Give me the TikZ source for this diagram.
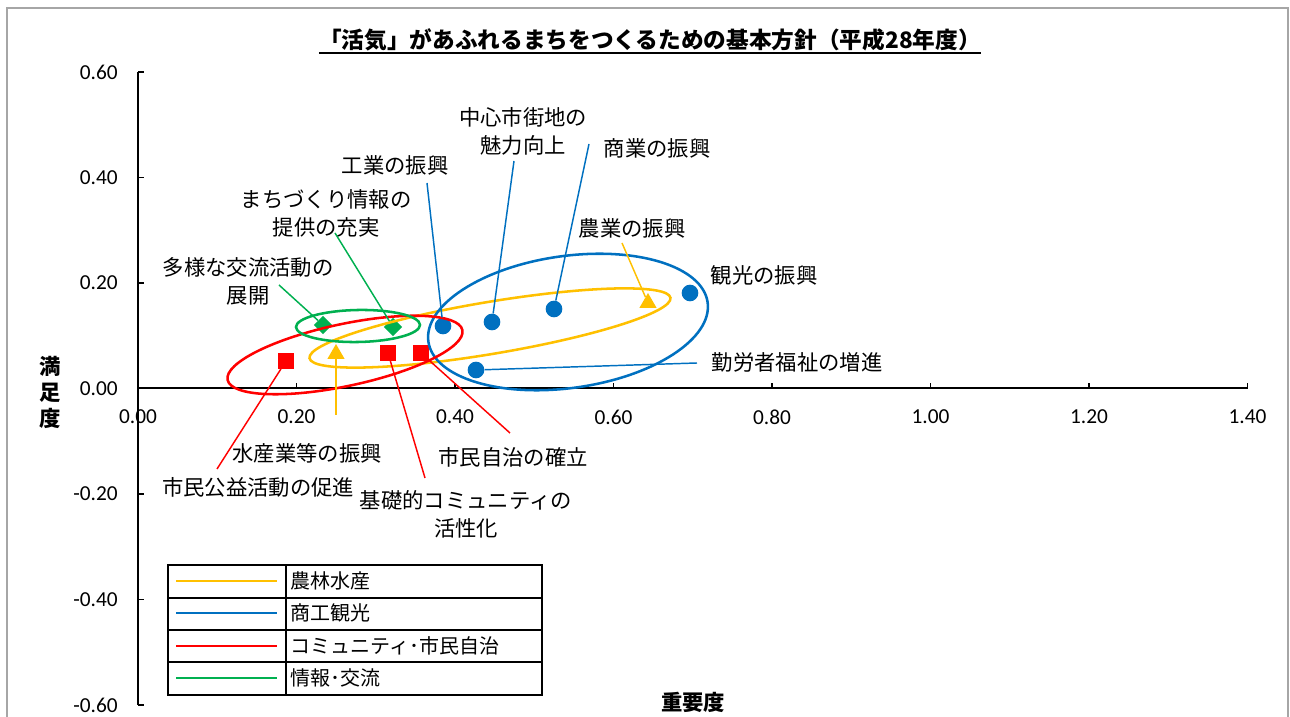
\documentclass[tikz,border=0pt]{standalone}
\usepackage{fontspec}
\setmainfont{Noto Sans CJK JP}
\newfontfamily\numfont{Carlito}
\usetikzlibrary{shapes.geometric}
\definecolor{norin}{RGB}{255,192,0}
\definecolor{shoko}{RGB}{0,112,192}
\definecolor{komyu}{RGB}{255,0,0}
\definecolor{joho}{RGB}{0,176,80}
\definecolor{waku}{RGB}{166,166,166}
\tikzset{
  lbl/.style={font=\fontsize{16}{21}\selectfont, align=center, inner sep=0pt},
  ticklbl/.style={font=\numfont\fontsize{16}{19}\selectfont, inner sep=0pt},
  axttl/.style={font=\bfseries\fontsize{16}{19.5}\selectfont, align=center, inner sep=0pt},
  axis/.style={line width=1.1pt},
  lead/.style={line width=1.1pt},
  ring/.style={line width=1.9pt},
  bdot/.style={circle, fill=shoko, inner sep=0pt, minimum size=12.5pt},
  otri/.style={regular polygon, regular polygon sides=3, fill=norin, inner sep=0pt, minimum size=15pt},
  rsq/.style={rectangle, fill=komyu, inner sep=0pt, minimum size=11.5pt},
  gdia/.style={diamond, fill=joho, inner sep=0pt, minimum size=14pt},
}
\begin{document}
\begin{tikzpicture}[x=0.75pt,y=0.75pt]
\useasboundingbox (0,0) rectangle (1290,717);
\draw[waku, line width=1.1pt] (7,-5) -- (7,709) -- (1288,709) -- (1288,-5);

\node[font=\bfseries\fontsize{17}{20}\selectfont, inner sep=0pt] (title) at (650,677) {「活気」があふれるまちをつくるための基本方針（平成28年度）};
\draw[line width=1pt] (title.west |- 0,664) -- (title.east |- 0,664);

% axes
\draw[axis] (138,12) -- (138,645);
\draw[axis] (138,329) -- (1247.5,329);
\foreach \v [count=\k from 0] in {-0.60,-0.40,-0.20,0.00,0.20,0.40,0.60} {
  \draw[axis] (138,12+105.5*\k) -- ++(6,0);
  \node[ticklbl, anchor=east] (ylab\k) at (118,12+105.5*\k) {\v};
}
\foreach \v [count=\k from 0] in {0.00,0.20,0.40,0.60,0.80,1.00,1.20,1.40} {
  \draw[axis] (138+158.5*\k,329) -- ++(0,5);
  \node[ticklbl] (xlab\k) at (138+158.5*\k,300) {\v};
}
\node[axttl] (ytitle) at (50,325) {満\\足\\度};
\node[axttl] (xtitle) at (693,15) {重要度};

% markers
\node[bdot] (kogyo) at (443,391) {};
\node[bdot] (chushin) at (492,395) {};
\node[bdot] (shogyo) at (554,408) {};
\node[bdot] (kanko) at (690,424) {};
\node[bdot] (kinro) at (476,347) {};
\node[otri] (suisan) at (336,363) {};
\node[otri] (nogyo) at (648,414) {};
\node[rsq] (koeki) at (286,356) {};
\node[rsq] (kiso) at (388,364) {};
\node[rsq] (jichi) at (421,364) {};
\node[gdia] (tayo) at (323,392) {};
\node[gdia] (machi) at (393,390) {};

% groups
\draw[ring, norin, rotate around={9.5:(490,389)}] (490,389) ellipse [x radius=183, y radius=26];
\draw[ring, shoko, rotate around={8:(568,395)}] (568,395) ellipse [x radius=141, y radius=66];
\draw[ring, komyu, rotate around={12:(345,362)}] (345,362) ellipse [x radius=120, y radius=31];
\draw[ring, joho, rotate around={1:(358,391)}] (358,391) ellipse [x radius=62, y radius=16];

% labels
\node[lbl] (kogyolbl) at (395,552) {工業の振興};
\node[lbl] (chushinlbl) at (523,586) {中心市街地の\\魅力向上};
\node[lbl] (shogyolbl) at (657,569) {商業の振興};
\node[lbl] (machilbl) at (326,504) {まちづくり情報の\\提供の充実};
\node[lbl] (nogyolbl) at (632,489) {農業の振興};
\node[lbl] (tayolbl) at (248,436) {多様な交流活動の\\展開};
\node[lbl] (kankolbl) at (764,442) {観光の振興};
\node[lbl] (kinrolbl) at (797,355) {勤労者福祉の増進};
\node[lbl] (suisanlbl) at (307,264) {水産業等の振興};
\node[lbl] (jichilbl) at (513,260) {市民自治の確立};
\node[lbl] (koekilbl) at (258,230) {市民公益活動の促進};
\node[lbl] (kisolbl) at (466,203) {基礎的コミュニティの\\活性化};

\coordinate (kogyoend) at (427,534);
\coordinate (chushinend) at (514,556);
\coordinate (shogyoend) at (589,573);
\coordinate (nogyoend) at (622,474);
\coordinate (kinroend) at (697,354);
\coordinate (machiend) at (335,484);
\coordinate (tayoend) at (279,432);
\coordinate (suisanend) at (336,302);
\coordinate (koekiend) at (217,248);
\coordinate (kisoend) at (425,239);
\coordinate (jichiend) at (510,284);

\path[draw,lead,shoko] (kogyoend) -- (kogyo);
\path[draw,lead,shoko] (chushinend) -- (chushin);
\path[draw,lead,shoko] (shogyoend) -- (shogyo);
\path[draw,lead,shoko] (kinroend) -- (kinro);
\path[draw,lead,norin] (nogyoend) -- (nogyo);
\path[draw,lead,norin] (suisanend) -- (suisan);
\path[draw,lead,joho] (machiend) -- (machi);
\path[draw,lead,joho] (tayoend) -- (tayo);
\path[draw,lead,komyu] (koekiend) -- (koeki);
\path[draw,lead,komyu] (kisoend) -- (kiso);
\path[draw,lead,komyu] (jichiend) -- (jichi);

% legend
\draw[line width=1.5pt] (168,22) rectangle (542,152);
\draw[line width=1.5pt] (286,22) -- (286,152);
\foreach \y in {55,87,119} \draw[line width=1.5pt] (168,\y) -- (542,\y);
\foreach \c/\t/\y [count=\i] in {norin/農林水産/136, shoko/商工観光/104, komyu/コミュニティ･市民自治/71, joho/情報･交流/39} {
  \draw[\c, line width=2pt] (176,\y) -- (277,\y);
  \node[font=\fontsize{15}{18}\selectfont, anchor=west, inner sep=0pt] (leg\i) at (290,\y) {\t};
}
\end{tikzpicture}
\end{document}
